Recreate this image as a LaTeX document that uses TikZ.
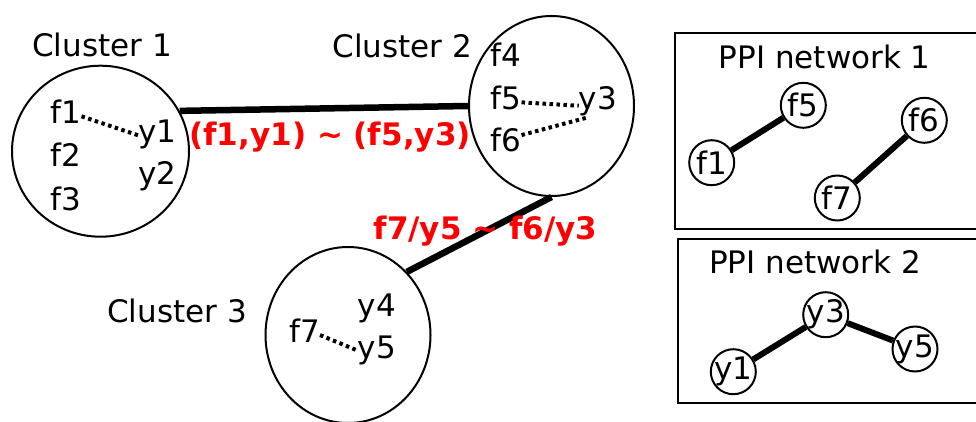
\documentclass[tikz,border=0pt]{standalone}
\usepackage{fontspec}
\setmainfont{DejaVu Sans}
\usetikzlibrary{shapes.geometric}
\begin{document}
\begin{tikzpicture}[x=1pt,y=-1pt,
  lbl/.style={font=\fontsize{31}{37}\selectfont, inner sep=0pt, anchor=base},
  mem/.style={font=\fontsize{31}{37}\selectfont, inner sep=0pt, anchor=base, text height=22.6pt, text depth=7.3pt},
  redlbl/.style={font=\fontsize{31}{37}\selectfont\bfseries, text=red, inner sep=0pt, anchor=base},
  clus/.style={draw, ellipse, line width=2pt, inner sep=0pt},
  link/.style={line width=6.5pt},
  dots/.style={line width=4pt, dash pattern=on 3.5pt off 3.5pt},
  pnode/.style={draw, circle, line width=2pt, minimum size=45pt, inner sep=-3pt, font=\fontsize{31}{37}\selectfont},
  pedge/.style={line width=6pt},
  box/.style={line width=2pt}
]
\useasboundingbox (0,0) rectangle (976,422);

% clusters
\node[clus, minimum width=177pt, minimum height=171pt] (c1) at (100.5,151.2) {};
\node[clus, minimum width=165pt, minimum height=180pt] (c2) at (551.5,106) {};
\node[clus, minimum width=165pt, minimum height=176pt] (c3) at (348,335) {};

\node[lbl] (l1) at (102,57) {Cluster 1};
\node[lbl] (l2) at (402.5,58) {Cluster 2};
\node[lbl] (l3) at (177,322.7) {Cluster 3};

% members
\node[mem] (f1) at (66,124) {f1};
\node[mem] (f2) at (66,167) {f2};
\node[mem] (f3) at (66,210) {f3};
\node[mem] (y1) at (157.5,143) {y1};
\node[mem] (y2) at (157.5,185) {y2};

\node[mem] (f4) at (506,66.7) {f4};
\node[mem] (f5) at (506,110) {f5};
\node[mem] (f6) at (506,151.7) {f6};
\node[mem] (y3) at (598,110) {y3};

\node[mem] (y4) at (377,316.7) {y4};
\node[mem] (f7) at (304.5,342.7) {f7};
\node[mem] (y5) at (377,358.3) {y5};

\draw[dots] (f1.east) -- (y1.west);
\draw[dots] (f5.east) -- (y3.190);
\draw[dots] (f6.30) -- (y3.235);
\draw[dots] (f7.east) -- (y5.west);

% inter-cluster links
\draw[link] (c1.27) -- (c2.west);
\draw[link] (c2.south) -- (c3.47);

\node[redlbl] (r1) at (330,145.5) {(f1,y1) \textasciitilde{} (f5,y3)};
\node[redlbl] (r2) at (485.5,239.3) {f7/y5 \textasciitilde{} f6/y3};

% PPI network 1
\draw[box] (990,33.3) -- (675,33.3) -- (675,229.3) -- (990,229.3);
\node[lbl] (t1) at (824.7,68.3) {PPI network 1};
\node[pnode] (p1) at (711.7,162.7) {f1};
\node[pnode] (p5) at (803.3,105.3) {f5};
\node[pnode] (p6) at (924.3,120.3) {f6};
\node[pnode] (p7) at (837.3,198) {f7};
\draw[pedge] (p1) -- (p5);
\draw[pedge] (p7) -- (p6);

% PPI network 2
\draw[box] (990,239.3) -- (678,239.3) -- (678,403.3) -- (990,403.3);
\node[lbl] (t2) at (815,273.3) {PPI network 2};
\node[pnode] (q1) at (733.3,371.7) {y1};
\node[pnode] (q3) at (825.7,314.7) {y3};
\node[pnode] (q5) at (915,349) {y5};
\draw[pedge] (q1) -- (q3);
\draw[pedge] (q3) -- (q5);
\end{tikzpicture}
\end{document}
